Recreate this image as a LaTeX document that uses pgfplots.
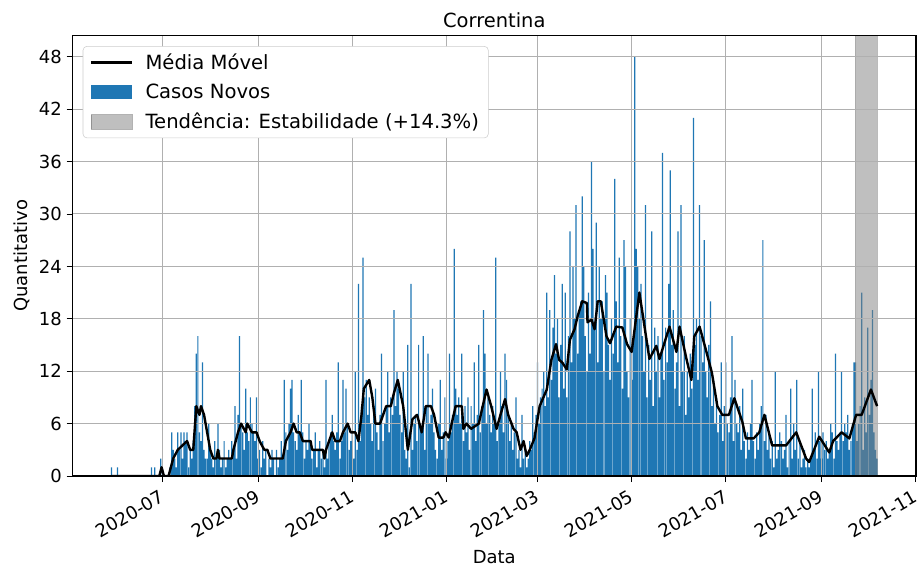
\documentclass[border=0pt]{standalone}
\usepackage{fontspec}
\setmainfont{DejaVu Sans}
\usepackage{pgfplots}
\pgfplotsset{compat=1.18}
\definecolor{mplblue}{HTML}{1F77B4}
\definecolor{gridgray}{HTML}{B0B0B0}
\definecolor{bandgray}{HTML}{808080}
\begin{document}
\begin{tikzpicture}
\begin{axis}[
  set layers,
  scale only axis,
  width=632.6pt, height=330.2pt,
  xmin=-58.2, xmax=488.2,
  ymin=0, ymax=50.4,
  xtick={0,62,123,184,243,304,365,427,488},
  xticklabels={2020-07,2020-09,2020-11,2021-01,2021-03,2021-05,2021-07,2021-09,2021-11},
  ytick={0,6,...,48},
  tick pos=left,
  tick align=outside,
  major tick length=4.5pt,
  every tick/.style={black, line width=0.6pt},
  grid=major,
  major grid style={gridgray, line width=0.8pt},
  axis line style={black, line width=0.8pt},
  /pgf/number format/assume math mode=true,
  tick label style={font=\fontsize{13.5}{16}\selectfont},
  xticklabel style={rotate=30, anchor=north east, xshift=-1.5pt},
  title={Correntina},
  every axis title shift=0pt,
  title style={font=\fontsize{14.6}{17}\selectfont, at={(axis description cs:0.5,1.0357)}, anchor=center},
  xlabel={Data},
  xlabel style={font=\fontsize{13.5}{16}\selectfont, at={(axis description cs:0.5,-0.184)}, anchor=center},
  ylabel={Quantitativo},
  ylabel style={font=\fontsize{13.5}{16}\selectfont, at={(axis description cs:-0.0599,0.5)}, anchor=center},
  legend cell align=left,
  legend style={at={(0.0121,0.9766)}, anchor=north west,
    font=\fontsize{14.7}{17}\selectfont,
    draw=black!20, fill=white, rounded corners=3pt,
    row sep=5.4pt, inner xsep=5pt, inner ysep=3.5pt},
]
\addplot[black, line width=1.8pt, line join=round,
  legend image code/.code={\draw[sharp corners, black, line width=1.8pt] (0pt,0pt) -- (31pt,0pt); \path[draw=none, fill=none] (0pt,0pt) -- (39pt,0pt);}]
coordinates {
(-33,0) (-2,0) (-0.5,1) (1,0) (4,0) (7,2) (10,3) (16,4) (18,3) (20,3) (22,8) (24,7) (25,8) (27,7) (30,4) (31,3) (33,2) (35,2) (36,3) (37,2) (45,2) (46,3) (49,5) (51,6) (54,5) (55,6) (58,5) (61,5) (63,4) (66,3) (68,3) (70,2) (78,2) (80,4) (83,5) (85,6) (87,5) (89,5) (91,4) (96,4) (97,3) (104,3) (105,2) (106,3) (108,4) (110,5) (112,4) (115,4) (117,5) (120,6) (122,5) (125,5) (127,4) (129,7) (130.5,10) (134,11) (136,9) (138,6) (141,6) (145,8) (148,8) (150,9.5) (152.5,11) (156,8) (159,3) (162,6.5) (165,7) (168,5) (170.6,8) (174,8) (176,7) (179,4.4) (182,4.4) (183.5,5) (185.5,4.4) (187.4,6) (190,8) (194,8) (195,5.4) (197,6) (200,5.4) (205,6) (207,7.6) (210,9.9) (213,8) (216.5,5.4) (219,7) (222,8.8) (224,7) (227.5,5.4) (229.5,5) (232,3) (234,4) (236,2.3) (238,3) (241,4.3) (244.4,8) (249,9.9) (252,13.3) (255,15.1) (257,13.3) (259,13) (262,12.2) (264,15.6) (267,16.8) (269,18.3) (272,20) (275,19.8) (275.4,17.6) (278,17.9) (280,16.8) (282,20) (284,20) (287.7,16) (290,15.2) (294,17.1) (298,17) (301,15.1) (304,14.2) (309,21) (315.5,13.4) (320,14.9) (322,13.4) (328.5,17.1) (333,14.2) (335,17.1) (339.5,13.4) (342.7,11) (344.6,16) (348,17.1) (352,14.5) (356,11.8) (359.5,8) (362.7,7) (367,7) (370.5,8.9) (375.7,6.2) (378,4.3) (383,4.3) (386.7,5) (390,7) (395,3.5) (404,3.5) (410.6,5) (417,2) (419,1.6) (425.5,4.5) (432,2.7) (434.5,4) (440,5) (445,4.3) (449.4,7) (453,7) (459,9.9) (463,8)
};
\addlegendentry{Média Móvel}
\addplot[ybar, bar width=0.8, fill=mplblue, draw=none, on layer=axis background,
  legend image code/.code={\fill[sharp corners, mplblue] (0pt,-5.4pt) rectangle (31pt,5.4pt); \path[draw=none, fill=none] (0pt,0pt) -- (39pt,0pt);}]
coordinates {
(-33,1)(-29,1)(-7,1)(-5,1)(-1,2)
(5,1)(6,5)(7,3)(8,2)(9,1)(10,5)(11,3)(12,5)(13,2)(14,5)(15,4)(16,5)(17,1)(18,3)(19,2)(20,4)
(21,8)(22,14)(23,16)(24,5)(25,4)(26,13)(27,3)(28,2)(29,2)(30,6)
(31,3)(32,2)(33,1)(34,4)(35,2)(36,6)(37,3)(38,1)(39,2)(40,4)
(41,1)(42,2)(43,3)(44,2)(45,4)(46,3)(47,8)(48,2)(49,7)(50,16)
(51,6)(52,5)(53,3)(54,10)(55,5)(56,4)(57,9)(58,6)(59,5)(60,4)
(61,9)(62,2)(63,3)(64,1)(65,4)(66,2)(67,3)(69,2)(70,1)
(71,3)(72,2)(74,3)(75,1)(76,2)(77,4)(78,2)(79,11)(80,5)
(81,3)(82,6)(83,10)(84,11)(85,5)(86,4)(87,3)(88,7)(89,5)(90,11)
(91,5)(92,2)(93,4)(94,3)(95,6)(96,4)(97,2)(98,3)(99,5)(100,1)
(101,3)(102,4)(103,2)(104,3)(105,1)(106,11)(107,2)(108,4)(109,5)(110,7)
(111,4)(112,3)(113,5)(114,13)(115,2)(116,4)(117,11)(118,5)(119,10)(120,6)
(121,3)(122,4)(123,5)(124,2)(125,12)(126,3)(127,22)(128,4)(129,8)(130,25)
(131,9)(132,11)(133,7)(134,9)(135,6)(136,4)(137,8)(138,10)(139,5)(140,3)
(141,7)(142,14)(143,4)(144,6)(145,8)(146,12)(147,5)(148,9)(149,7)(150,19)
(151,8)(152,12)(153,10)(154,7)(155,5)(156,12)(157,3)(158,2)(159,15)(160,1)
(161,22)(162,3)(163,6)(164,7)(165,4)(166,15)(167,6)(168,5)(169,16)(170,3)
(171,8)(172,14)(173,6)(174,7)(175,10)(176,5)(177,3)(178,2)(179,6)(180,11)
(181,3)(182,5)(183,9)(184,2)(185,4)(186,14)(187,5)(188,7)(189,26)(190,10)
(191,7)(192,9)(193,6)(194,14)(195,4)(196,8)(197,5)(198,9)(199,3)(200,8)
(201,6)(202,13)(203,4)(204,7)(205,15)(206,5)(207,8)(208,19)(209,14)(210,6)
(211,9)(212,7)(213,5)(214,8)(215,6)(216,25)(217,4)(218,6)(219,12)(220,8)
(221,5)(222,14)(223,11)(224,7)(225,4)(226,6)(227,3)(228,5)(229,9)(230,2)
(231,3)(232,1)(233,7)(234,2)(235,3)(236,1)(237,2)(238,4)(239,3)(240,8)
(241,5)(242,7)(243,13)(244,6)(245,9)(246,10)(247,12)(248,8)(249,21)(250,9)
(251,19)(252,11)(253,17)(254,23)(255,14)(256,18)(257,9)(258,15)(259,22)(260,10)
(261,21)(262,9)(263,16)(264,28)(265,13)(266,24)(267,18)(268,31)(269,14)(270,19)
(271,20)(272,32)(273,24)(274,16)(275,12)(276,21)(277,14)(278,36)(279,26)(280,17)
(281,29)(282,13)(283,24)(284,18)(285,20)(286,12)(287,23)(288,21)(289,15)(290,11)
(291,18)(292,14)(293,34)(294,20)(295,13)(296,25)(297,16)(298,10)(299,27)(300,24)
(301,12)(302,9)(303,18)(304,11)(305,15)(306,48)(307,26)(308,24)(309,18)(310,22)
(311,16)(312,12)(313,31)(314,9)(315,15)(316,11)(317,28)(318,8)(319,17)(320,12)
(321,16)(322,9)(323,14)(324,37)(325,11)(326,17)(327,13)(328,22)(329,35)(330,15)
(331,19)(332,10)(333,13)(334,28)(335,8)(336,31)(337,12)(338,16)(339,7)(340,12)
(341,9)(342,14)(343,10)(344,41)(345,15)(346,18)(347,11)(348,31)(349,16)(350,13)
(351,27)(352,12)(353,9)(354,15)(355,20)(356,8)(357,11)(358,6)(359,9)(360,5)
(361,7)(362,13)(363,4)(364,8)(365,13)(366,6)(367,5)(368,9)(369,16)(370,4)
(371,11)(372,6)(373,5)(374,8)(375,3)(376,10)(377,4)(378,2)(379,5)(380,3)
(381,6)(382,11)(383,4)(384,2)(385,5)(386,3)(387,6)(388,8)(389,27)(390,4)
(391,7)(392,3)(393,5)(394,2)(395,4)(396,1)(397,12)(398,2)(399,3)(400,5)
(401,4)(402,2)(403,3)(404,7)(405,1)(406,4)(407,10)(408,2)(409,6)(410,3)
(411,11)(412,2)(413,4)(414,1)(415,2)(416,3)(417,1)(418,2)(419,1)(420,2)
(421,10)(422,3)(423,5)(424,2)(425,12)(426,4)(427,2)(428,5)(429,3)(430,4)
(431,2)(432,3)(433,6)(434,5)(435,2)(436,14)(437,4)(438,3)(439,5)(440,12)
(441,4)(442,6)(443,5)(444,7)(445,3)(446,4)(447,6)(448,13)(449,13)(450,4)
(451,6)(452,8)(453,21)(454,3)(455,9)(456,5)(457,17)(458,7)(459,11)(460,19)
(461,5)(462,3)(463,2)
};
\addlegendentry{Casos Novos}
\addplot[fill=bandgray, fill opacity=0.5, draw=bandgray, draw opacity=0.5, on layer=axis background,
  legend image code/.code={\filldraw[sharp corners, fill=bandgray, draw=bandgray!80!black] (0pt,-5.4pt) rectangle (31pt,5.4pt); \path[draw=none, fill=none] (0pt,0pt) -- (39pt,0pt);}]
coordinates {(449,0) (449,50.4) (463,50.4) (463,0) (449,0)};
\addlegendentry{Tendência: Estabilidade (+14.3\%)}
\end{axis}
\pgfresetboundingbox
\path[use as bounding box] ([shift={(-54.4pt,-70.5pt)}]current axis.south west) rectangle ([shift={(0.75pt,26.8pt)}]current axis.north east);
\end{tikzpicture}
\end{document}
